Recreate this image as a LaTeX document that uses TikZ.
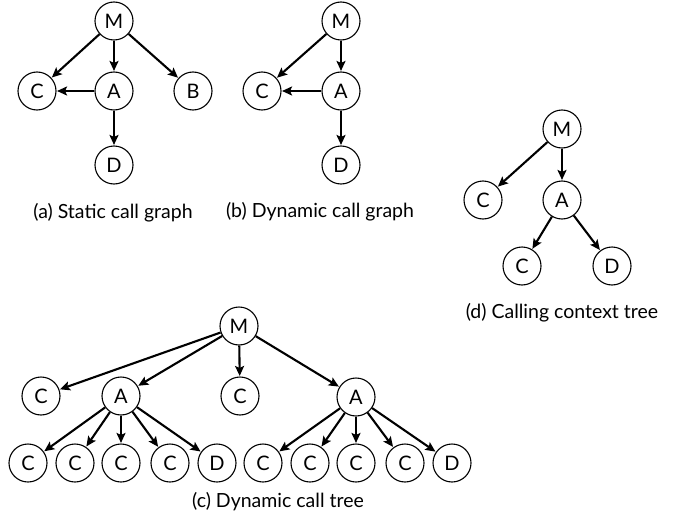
\documentclass[tikz,border=0pt]{standalone}
\usepackage{fontspec}
\setmainfont{Lato}
\usetikzlibrary{arrows.meta}
\begin{document}
\begin{tikzpicture}[x=1pt,y=-1pt,
  nd/.style={circle,draw,line width=1.1pt,minimum size=38pt,inner sep=0pt,font=\fontsize{20}{24}\selectfont},
  ed/.style={line width=2.1pt,-{Stealth[length=10pt,width=9pt,inset=2pt]},shorten >=0.5pt},
  captxt/.style={font=\fontsize{19.5}{23}\selectfont}]
\useasboundingbox (0,0) rectangle (680,527);
% (a)
\node[nd] (Ma) at (114,21) {M};
\node[nd] (Ca) at (37,91) {C};
\node[nd] (Aa) at (114,91) {A};
\node[nd] (Ba) at (193,91) {B};
\node[nd] (Da) at (114,165) {D};
\draw[ed] (Ma) -- (Ca);
\draw[ed] (Ma) -- (Aa);
\draw[ed] (Ma) -- (Ba);
\draw[ed] (Aa) -- (Ca);
\draw[ed] (Aa) -- (Da);
\node[captxt] (capa) at (113,213) {(a) Static call graph};
% (b)
\node[nd] (Mb) at (341,21) {M};
\node[nd] (Cb) at (262,91) {C};
\node[nd] (Ab) at (341,91) {A};
\node[nd] (Db) at (341,165) {D};
\draw[ed] (Mb) -- (Cb);
\draw[ed] (Mb) -- (Ab);
\draw[ed] (Ab) -- (Cb);
\draw[ed] (Ab) -- (Db);
\node[captxt] (capb) at (320,212) {(b) Dynamic call graph};
% (d)
\node[nd] (Md) at (562,129) {M};
\node[nd] (Cd1) at (483,200) {C};
\node[nd] (Ad) at (562,200) {A};
\node[nd] (Cd2) at (522,266) {C};
\node[nd] (Dd) at (612,266) {D};
\draw[ed] (Md) -- (Cd1);
\draw[ed] (Md) -- (Ad);
\draw[ed] (Ad) -- (Cd2);
\draw[ed] (Ad) -- (Dd);
\node[captxt] (capd) at (562,313) {(d) Calling context tree};
% (c)
\node[nd] (Mc) at (239,326) {M};
\node[nd] (C1) at (41,396) {C};
\node[nd] (A1) at (121,396) {A};
\node[nd] (C2) at (240,396) {C};
\node[nd] (A2) at (356,397) {A};
\node[nd] (L1) at (28,463) {C};
\node[nd] (L2) at (75,463) {C};
\node[nd] (L3) at (121,463) {C};
\node[nd] (L4) at (170,463) {C};
\node[nd] (L5) at (217,463) {D};
\node[nd] (R1) at (263,463) {C};
\node[nd] (R2) at (310,463) {C};
\node[nd] (R3) at (356,463) {C};
\node[nd] (R4) at (405,463) {C};
\node[nd] (R5) at (452,463) {D};
\draw[ed] (Mc) -- (C1);
\draw[ed] (Mc) -- (A1);
\draw[ed] (Mc) -- (C2);
\draw[ed] (Mc) -- (A2);
\foreach \n in {L1,L2,L3,L4,L5} \draw[ed] (A1) -- (\n);
\foreach \n in {R1,R2,R3,R4,R5} \draw[ed] (A2) -- (\n);
\node[captxt] (capc) at (278,502) {(c) Dynamic call tree};
\end{tikzpicture}
\end{document}
